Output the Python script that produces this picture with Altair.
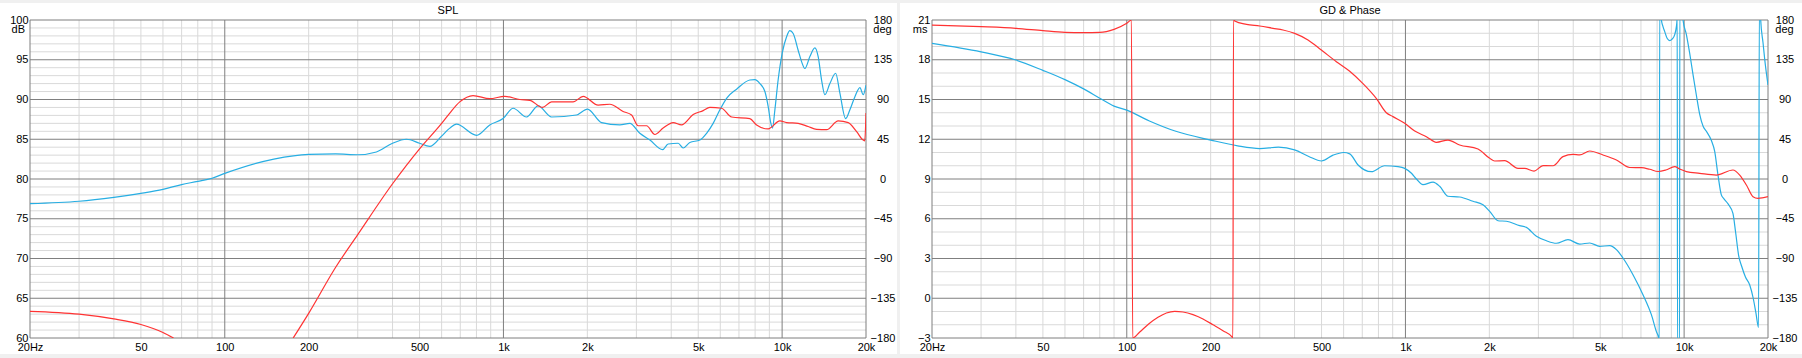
import altair as alt
import pandas as pd

# ---------------- data ----------------
# SPL panel, blue curve (dB)
spl_blue_f = [20, 30, 40, 50, 60, 70, 80, 90, 100, 150, 200, 250, 300, 350, 400, 449, 500, 544,
              600, 642, 678, 801, 893, 997, 1083, 1210, 1332, 1488, 1829, 2003, 2249, 2616,
              2842, 3086, 3354, 3724, 3900, 4236, 4416, 4666, 5068, 5358, 5656, 5980, 6320,
              6866, 7662, 7986, 8324, 8674, 8914, 9112, 9238, 9420, 9676, 10004, 10376, 10662,
              10958, 11418, 11744, 12070, 12578, 13110, 13472, 13856, 14240, 14840, 15560,
              16120, 16904, 17508, 18248, 19020, 19542, 20000]
spl_blue_db = [76.9, 77.2, 77.7, 78.2, 78.7, 79.3, 79.7, 80.1, 80.7, 82.5, 83.1, 83.15, 83.05, 83.4,
               84.5, 85.0, 84.5, 84.1, 85.4, 86.4, 86.9, 85.5, 86.8, 87.6, 88.9, 87.8, 89.2, 87.8,
               88.05, 88.8, 87.1, 86.8, 87.0, 85.75, 84.9, 83.7, 84.4, 84.5, 83.9, 84.6, 84.9,
               85.75, 87.0, 88.7, 90.15, 91.3, 92.45, 92.5, 92.0, 91.0, 89.1, 87.0, 86.4, 88.7,
               92.45, 95.8, 97.9, 98.66, 98.3, 96.2, 94.76, 93.9, 95.4, 96.5, 95.4, 92.45, 90.6,
               92.0, 93.3, 90.8, 87.6, 88.7, 90.35, 91.5, 90.6, 91.8]

# SPL panel, red curve (dB), two visible pieces
spl_red_f1 = [20, 30, 40, 50, 60, 65.5]
spl_red_db1 = [63.36, 63.0, 62.4, 61.7, 60.7, 60.0]
spl_red_f2 = [176, 200, 250, 300, 400, 500, 600, 642, 697, 778, 893, 1011, 1145, 1243, 1381,
              1488, 1778, 1932, 2187, 2408, 2688, 2882, 3044, 3263, 3494, 3742, 4064, 4356,
              4796, 5208, 5504, 6062, 6588, 7662, 8100, 8914, 9814, 10376, 11418, 12402, 13296,
              14442, 15900, 17270, 18508, 19542, 19800, 20000]
spl_red_db2 = [60.0, 63.1, 68.9, 73.0, 79.4, 83.8, 87.0, 88.3, 89.7, 90.5, 90.1, 90.4, 90.0, 89.9,
               89.0, 89.7, 89.7, 90.4, 89.3, 89.4, 88.5, 88.05, 86.7, 86.7, 85.6, 86.4, 87.1,
               86.8, 88.1, 88.6, 89.0, 88.9, 87.8, 87.6, 86.8, 86.3, 87.3, 87.1, 87.0, 86.6,
               86.25, 86.2, 87.3, 87.1, 85.95, 84.9, 84.8, 88.3]

# GD panel, blue group delay (ms); values past the plot edges run off the chart
gd_f = [20, 30, 40, 50, 60, 70, 80, 90, 100, 120, 150, 200, 250, 300, 350, 400, 450, 500, 550,
        600, 631, 676, 755, 842, 940, 994, 1051, 1095, 1156, 1256, 1327, 1421, 1565, 1747,
        1898, 2006, 2149, 2303, 2570, 2716, 2951, 3206, 3480, 3831, 4220, 4584, 4978, 5408,
        5716, 6034, 6554, 7118, 7630, 7954, 8106, 8140, 8175, 8250, 8290, 8400, 8520, 8700,
        8878, 9050, 9254, 9380, 9430, 9445, 9470, 9630, 9650, 9890, 9910, 10190, 10470,
        10760, 11070, 11370, 11690, 12020, 12530, 12870, 13230, 13600, 13900, 14400, 14970,
        15300, 15700, 16100, 16600, 17200, 17700, 18100, 18500, 18620, 18780, 18830, 19190,
        19570, 20000]
gd_ms = [19.24, 18.6, 17.98, 17.2, 16.5, 15.8, 15.1, 14.5, 14.2, 13.4, 12.6, 11.94, 11.5, 11.3,
         11.4, 11.2, 10.7, 10.36, 10.8, 11.0, 10.9, 10.06, 9.55, 10.0, 9.93, 9.8, 9.43, 9.0,
         8.57, 8.77, 8.45, 7.7, 7.64, 7.32, 7.06, 6.56, 5.85, 5.81, 5.48, 5.35, 4.68, 4.34,
         4.15, 4.42, 4.09, 4.17, 3.92, 3.97, 3.67, 3.04, 1.78, 0.27, -1.24, -2.52, -3.0, -4.0,
         22.0, 22.0, 21.0, 20.5, 20.12, 19.6, 19.44, 19.55, 19.9, 20.5, 21.0, 22.0, -4.0,
         -4.0, 22.0, 22.0, 21.0, 19.9, 18.5, 16.9, 15.3, 13.9, 13.0, 12.6, 11.9, 11.1, 9.3,
         7.8, 7.5, 7.1, 6.4, 5.0, 3.2, 2.4, 1.6, 1.0, 0.0, -1.1, -2.2, 22.0, 22.0, 21.0,
         19.3, 17.6, 16.1]

# GD panel, red phase (deg), wrapping at +/-180
ph_f = [20, 30, 40, 50, 60, 70, 80, 90, 100, 103.9, 105.0, 111.3, 119.8, 129.4, 138.7, 148.6,
        159.1, 172.8, 187.7, 203.9, 221.4, 239.4, 240.3, 241.5, 244, 268.8, 299.9, 334.8,
        363.6, 400.4, 447, 499, 565, 631, 704, 787, 854, 902, 994, 1080, 1189, 1291, 1421,
        1565, 1821, 2006, 2090, 2270, 2535, 2678, 2893, 3116, 3384, 3676, 3993, 4220, 4584,
        5116, 5716, 6378, 7026, 7524, 8060, 8600, 9254, 9644, 10190, 11370, 13050, 14970,
        15830, 16730, 17670, 18400, 20000]
ph_deg = [174.3, 172.5, 170.6, 167.9, 166.0, 165.6, 165.9, 169.4, 176.2, 180, -180, -173.2,
          -164.2, -156.6, -151.7, -149.8, -150.6, -153.6, -158.5, -165.0, -171.7, -179.2,
          -180, 180, 178.9, 175.1, 173.2, 170.6, 168.7, 164.9, 157.4, 146.0, 132.8, 122, 108,
          91, 75, 70.6, 63, 54.3, 47.9, 41.5, 44.1, 38.5, 34.0, 23.4, 20.4, 20.7, 12.1, 12.1,
          9.0, 15.1, 15.0, 25.3, 27.9, 27.3, 31.7, 27.2, 21.5, 13.0, 12.8, 11.0, 8.5, 10.2,
          14.0, 11.3, 8.3, 6.4, 4.5, 10.2, 4.5, -6.8, -20.0, -21.9, -20.0]

# axes / ticks
x_tick_values = [20, 50, 100, 200, 500, 1000, 2000, 5000, 10000, 20000]
x_tick_labels = ["20Hz", "50", "100", "200", "500", "1k", "2k", "5k", "10k", "20k"]
spl_ticks = [60, 65, 70, 75, 80, 85, 90, 95, 100]
deg_ticks = [-180, -135, -90, -45, 0, 45, 90, 135, 180]
ms_ticks = [-3, 0, 3, 6, 9, 12, 15, 18, 21]
freq_major = [20, 100, 1000, 10000, 20000]
freq_minor = [m * d for d in (10, 100, 1000) for m in range(2, 10) if 20 < m * d < 20000]
spl_minor = [v for v in range(60, 101) if v % 5]
ms_minor = [v for v in range(-3, 22) if v % 3]

# ---------------- style ----------------
W, H = 836, 318
FONT = "Liberation Sans"
BLUE = "#27aee3"
RED = "#ff3333"
MINOR = "#d9d9d9"
MAJOR = "#7f7f7f"

label_expr = " : ".join(
    f"datum.value == {v} ? '{l}'" for v, l in zip(x_tick_values, x_tick_labels)
) + " : datum.label"

xscale = alt.Scale(type="log", domain=[20, 20000], nice=False)
x_axis = alt.Axis(values=x_tick_values, labelExpr=label_expr, title=None, grid=False,
                  ticks=False, domain=False, labelPadding=3, labelFlush=False,
                  labelOverlap=False, labelFont=FONT, labelFontSize=11, labelColor="black",
                  zindex=1)


def X(field):
    return alt.X(field, type="quantitative", scale=xscale, axis=x_axis)


def make_y(domain, ticks, extent):
    scale = alt.Scale(domain=domain, nice=False, zero=False)
    axis = alt.Axis(values=ticks, orient="left", title=None, grid=False, ticks=False,
                    domain=False, labelPadding=2, labelFlush=False, labelOverlap=False,
                    labelBound=False, labelFont=FONT, labelFontSize=11, labelColor="black",
                    minExtent=extent, maxExtent=extent, zindex=1)

    def Y(field):
        return alt.Y(field, type="quantitative", scale=scale, axis=axis)
    return Y


def make_yr(extent):
    scale = alt.Scale(domain=[-180, 180], nice=False, zero=False)
    axis = alt.Axis(values=deg_ticks, orient="right", title=None, grid=False, ticks=False,
                    domain=False, labelPadding=16.5, labelAlign="center", labelFlush=False,
                    labelOverlap=False, labelBound=False, labelFont=FONT, labelFontSize=11,
                    labelColor="black", minExtent=extent, maxExtent=extent, zindex=1)

    def Y(field):
        return alt.Y(field, type="quantitative", scale=scale, axis=axis)
    return Y


one = pd.DataFrame({"a": [0]})


def text(s, x, y, align):
    return alt.Chart(pd.DataFrame({"t": [s]})).mark_text(
        font=FONT, fontSize=11, color="black", align=align, baseline="alphabetic"
    ).encode(x=alt.value(x), y=alt.value(y), text="t:N")


def background(left, right):
    return alt.Chart(one).mark_rect(color="white").encode(
        x=alt.value(-left), x2=alt.value(W + right), y=alt.value(-17), y2=alt.value(H + 16))


def grid(Y, minor_vals, major_vals):
    vmin = alt.Chart(pd.DataFrame({"f": freq_minor})).mark_rule(
        color=MINOR, strokeWidth=1).encode(x=X("f"))
    hmin = alt.Chart(pd.DataFrame({"v": minor_vals})).mark_rule(
        color=MINOR, strokeWidth=1).encode(y=Y("v"))
    vmaj = alt.Chart(pd.DataFrame({"f": freq_major})).mark_rule(
        color=MAJOR, strokeWidth=1).encode(x=X("f"))
    hmaj = alt.Chart(pd.DataFrame({"v": major_vals})).mark_rule(
        color=MAJOR, strokeWidth=1).encode(y=Y("v"))
    return [vmin, hmin, vmaj, hmaj]


def line(df, Y, color, detail=None):
    enc = dict(x=X("f"), y=Y("v"))
    if detail:
        enc["detail"] = alt.Detail(detail, type="nominal")
    return alt.Chart(df).mark_line(color=color, strokeWidth=1.2, clip=True,
                                   interpolate="monotone").encode(**enc)


# ---------------- SPL panel ----------------
YL1 = make_y([60, 100], spl_ticks, 30)
YR1 = make_yr(31)
blue1 = pd.DataFrame({"f": spl_blue_f, "v": spl_blue_db})
red1 = pd.concat([
    pd.DataFrame({"f": spl_red_f1, "v": spl_red_db1, "seg": "a"}),
    pd.DataFrame({"f": spl_red_f2, "v": spl_red_db2, "seg": "b"}),
])
left1 = alt.layer(
    background(30, 31), *grid(YL1, spl_minor, spl_ticks),
    line(blue1, YL1, BLUE), line(red1, YL1, RED, "seg"),
    text("SPL", W / 2, -6, "center"), text("dB", -5, 12.5, "right"),
    text("deg", W + 16.5, 12.5, "center"),
)
right1 = alt.Chart(pd.DataFrame({"d": deg_ticks})).mark_rule(opacity=0).encode(y=YR1("d"))
panel1 = alt.layer(left1, right1).resolve_scale(y="independent").properties(width=W, height=H)

# ---------------- GD & Phase panel ----------------
YL2 = make_y([-3, 21], ms_ticks, 32)
YR2 = make_yr(34)
gd = pd.DataFrame({"f": gd_f, "v": gd_ms})
ph = pd.DataFrame({"f": ph_f, "v": ph_deg})
left2 = alt.layer(
    background(32, 34), *grid(YL2, ms_minor, ms_ticks),
    line(gd, YL2, BLUE),
    text("GD & Phase", W / 2, -6, "center"), text("ms", -4.5, 13, "right"),
    text("deg", W + 16.5, 12.5, "center"),
)
right2 = line(ph, YR2, RED)
panel2 = alt.layer(left2, right2).resolve_scale(y="independent").properties(width=W, height=H)

chart = alt.hconcat(panel1, panel2, spacing=3).properties(
    background="#f0f0f0", padding={"left": 0, "top": 3, "right": 0, "bottom": 4}
).configure_view(strokeWidth=0)

chart.save("out.html", embed_options={"renderer": "svg", "actions": False})
